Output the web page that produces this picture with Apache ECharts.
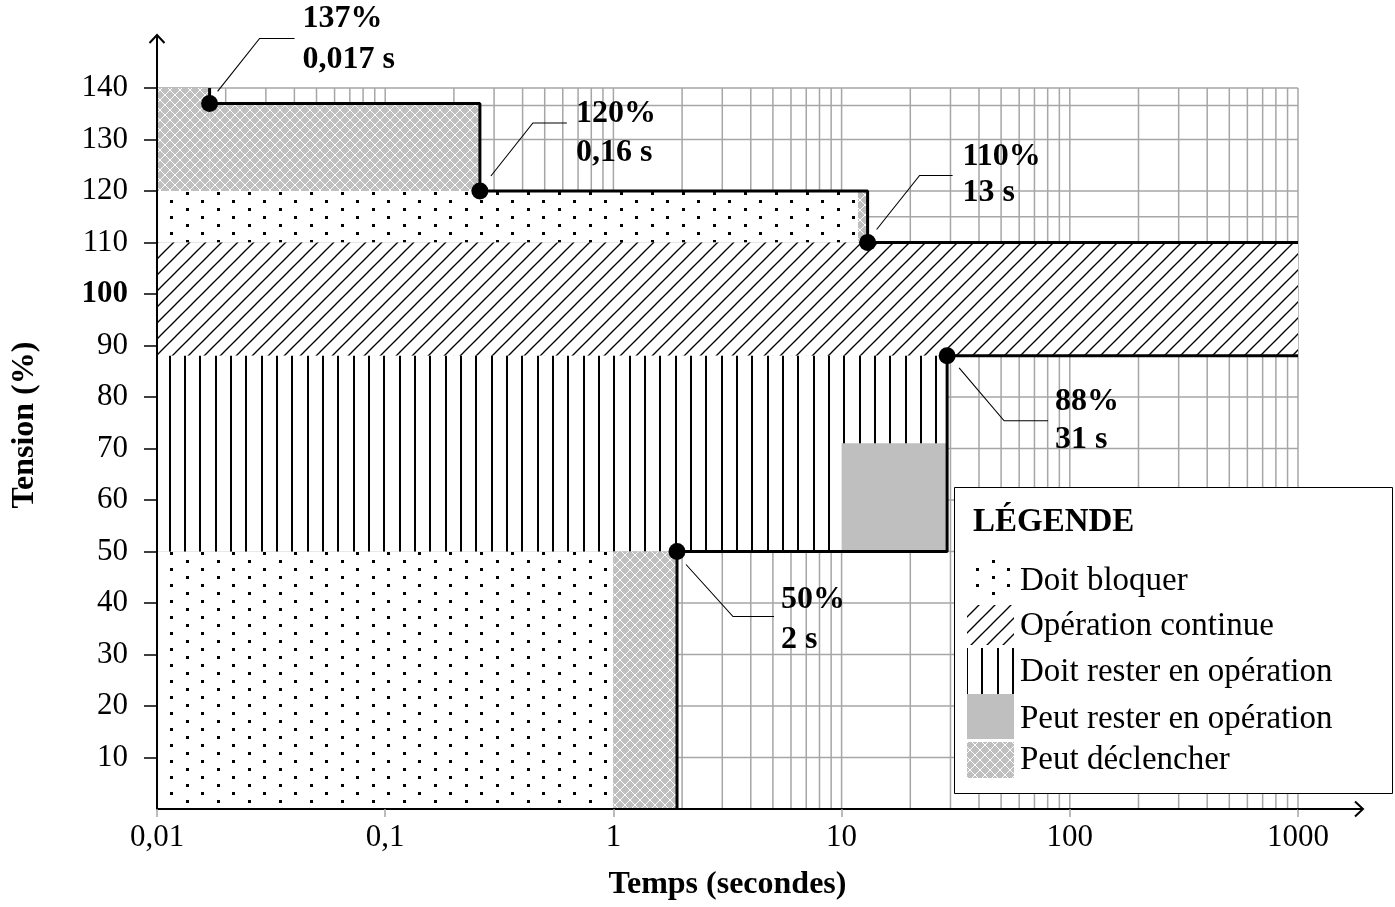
<!DOCTYPE html>
<html><head><meta charset="utf-8">
<script src="https://cdn.jsdelivr.net/npm/echarts@6/dist/echarts.min.js"></script>
<style>html,body{margin:0;padding:0;background:#fff}#c{width:1395px;height:907px}</style>
</head><body><div id="c"></div>
<script>
// ---------------- data ----------------
const xTickValues = [0.01, 0.1, 1, 10, 100, 1000];
const xTickLabels = ['0,01', '0,1', '1', '10', '100', '1000'];
const yTickValues = [10, 20, 30, 40, 50, 60, 70, 80, 90, 100, 110, 120, 130, 140];
const yBoldTick = 100;
// zones: [time start, time end, voltage low, voltage high]
const zoneMustTrip = [[0.01, 11.8, 110, 120], [0.01, 1, 0, 50]];
const zoneContinuous = [[0.01, 1000, 88, 110]];
const zoneMustRide = [[0.01, 29, 50, 88]];
const zoneMayRide = [[10, 29, 50, 71]];
const zoneMayTrip = [[0.01, 0.017, 120, 140], [0.017, 0.26, 120, 137], [11.8, 13, 110, 120], [1, 1.9, 0, 50]];
const upperBoundary = [[0.017, 140], [0.017, 137], [0.26, 137], [0.26, 120], [13, 120], [13, 110], [1000, 110]];
const lowerBoundary = [[1000, 88], [29, 88], [29, 50], [1.9, 50], [1.9, 0]];
const extraGridLines = [[0.26, 1000, 136.6], [13, 1000, 115]];
const pointTimes = [0.017, 0.26, 13, 29, 1.9];
const pointVolts = [137, 120, 110, 88, 50];
const pointPct = ['137%', '120%', '110%', '88%', '50%'];
const pointDur = ['0,017 s', '0,16 s', '13 s', '31 s', '2 s'];
const legendNames = ['Doit bloquer', 'Opération continue', 'Doit rester en opération', 'Peut rester en opération', 'Peut déclencher'];
const legendTitle = 'LÉGENDE';
const xTitle = 'Temps (secondes)';
const yTitle = 'Tension (%)';

(function () {
// ---------------- styles ----------------
const FONT = "'Liberation Serif','Times New Roman',serif";
const GRID_COLOR = '#a6a6a6';
const GRAY = '#bfbfbf';
// leader layouts relative to point: s=start, e=elbow, f=end, tx, ty1, ty2
const annoLayout = [
  { s: [8, -12], e: [50, -65], f: [85, -65], tx: 93, ty1: -85, ty2: -44 },
  { s: [11, -15], e: [53, -68], f: [87, -68], tx: 96, ty1: -77, ty2: -38 },
  { s: [9, -13], e: [52, -67], f: [85, -67], tx: 95, ty1: -86, ty2: -50 },
  { s: [12, 12], e: [57, 65], f: [101, 65], tx: 108, ty1: 46, ty2: 84 },
  { s: [9, 13], e: [56, 65], f: [97, 65], tx: 104, ty1: 48, ty2: 88 }
];

function makeCanvas(w, h, draw) {
  const c = document.createElement('canvas');
  c.width = w; c.height = h;
  draw(c.getContext('2d'), w, h);
  return c;
}
const dotsPat = { image: makeCanvas(31, 16, (ctx, w, h) => {
  ctx.fillStyle = '#fff'; ctx.fillRect(0, 0, w, h);
  ctx.fillStyle = '#000'; ctx.fillRect(0, 0, 3, 3); ctx.fillRect(15, 8, 3, 3);
}), repeat: 'repeat' };
const diagPat = { image: makeCanvas(16, 16, (ctx, w, h) => {
  ctx.fillStyle = '#fff'; ctx.fillRect(0, 0, w, h);
  ctx.strokeStyle = '#000'; ctx.lineWidth = 1.3;
  [-16, 0, 16].forEach(o => { ctx.beginPath(); ctx.moveTo(o - 2, 18); ctx.lineTo(o + 18, -2); ctx.stroke(); });
}), repeat: 'repeat' };
const vertPat = { image: makeCanvas(46, 8, (ctx, w, h) => {
  ctx.fillStyle = '#fff'; ctx.fillRect(0, 0, w, h);
  ctx.fillStyle = '#000'; [0, 15, 31].forEach(x => ctx.fillRect(x, 0, 2, h));
}), repeat: 'repeat' };
const crossPat = { image: makeCanvas(10, 10, (ctx, w, h) => {
  ctx.fillStyle = GRAY; ctx.fillRect(0, 0, w, h);
  ctx.strokeStyle = '#fff'; ctx.lineWidth = 1;
  [-10, 0, 10].forEach(o => {
    ctx.beginPath(); ctx.moveTo(o - 1, -1); ctx.lineTo(o + 11, 11); ctx.stroke();
    ctx.beginPath(); ctx.moveTo(o - 1, 11); ctx.lineTo(o + 11, -1); ctx.stroke();
  });
}), repeat: 'repeat' };

// grid line values
const gridX = [];
for (let i = 0; i < xTickValues.length - 1; i++) {
  for (let m = 1; m < 10; m++) gridX.push(xTickValues[i] * m);
}
gridX.push(xTickValues[xTickValues.length - 1]);
const xMin = xTickValues[0], xMax = xTickValues[xTickValues.length - 1];
const yMax = yTickValues[yTickValues.length - 1];

function zoneSeries(name, data, fill) {
  return {
    type: 'custom', name, data, z: 2, silent: true, clip: true,
    encode: { x: [0, 1], y: [2, 3] },
    renderItem: (params, api) => {
      const a = api.coord([api.value(0), api.value(3)]);
      const b = api.coord([api.value(1), api.value(2)]);
      return { type: 'rect', shape: { x: a[0], y: a[1], width: b[0] - a[0], height: b[1] - a[1] }, style: { fill } };
    }
  };
}

const chart = echarts.init(document.getElementById('c'), null, { renderer: 'canvas' });
chart.setOption({
  animation: false,
  backgroundColor: '#fff',
  grid: { left: 157, right: 97, top: 88, bottom: 98, containLabel: false },
  xAxis: {
    type: 'log', logBase: 10, min: xMin, max: xMax, z: 10,
    axisLine: { show: true, lineStyle: { color: '#000', width: 2 } },
    axisTick: { show: true, length: 8, lineStyle: { color: GRID_COLOR, width: 1.5 } },
    splitLine: { show: false },
    axisLabel: {
      margin: 13, color: '#000', fontSize: 31, fontFamily: FONT,
      formatter: v => xTickLabels[Math.round(Math.log10(v)) + 2]
    }
  },
  yAxis: {
    type: 'value', min: 0, max: yMax, interval: 10, z: 10,
    axisLine: { show: true, lineStyle: { color: '#000', width: 2 } },
    axisTick: { show: true, length: 13, customValues: yTickValues, lineStyle: { color: '#000', width: 1.5 } },
    splitLine: { show: false },
    axisLabel: {
      margin: 29, color: '#000', fontSize: 31, fontFamily: FONT, customValues: yTickValues,
      formatter: v => v === 0 ? '' : (v === yBoldTick ? '{b|' + v + '}' : String(v)),
      rich: { b: { fontWeight: 'bold', fontSize: 31, fontFamily: FONT, color: '#000' } }
    }
  },
  series: [
    {
      type: 'custom', name: 'gridV', data: gridX.map(v => [v]), z: 1, silent: true,
      encode: { x: 0 },
      renderItem: (params, api) => {
        const a = api.coord([api.value(0), 0]);
        const b = api.coord([api.value(0), yMax]);
        return { type: 'line', shape: { x1: a[0], y1: a[1], x2: b[0], y2: b[1] }, style: { stroke: GRID_COLOR, lineWidth: 1.5 } };
      }
    },
    {
      type: 'custom', name: 'gridH',
      data: yTickValues.map(v => [xMin, xMax, v]).concat(extraGridLines), z: 1, silent: true,
      encode: { x: [0, 1], y: 2 },
      renderItem: (params, api) => {
        const a = api.coord([api.value(0), api.value(2)]);
        const b = api.coord([api.value(1), api.value(2)]);
        return { type: 'line', shape: { x1: a[0], y1: a[1], x2: b[0], y2: b[1] }, style: { stroke: GRID_COLOR, lineWidth: 1.5 } };
      }
    },
    zoneSeries('Doit bloquer', zoneMustTrip, dotsPat),
    zoneSeries('Opération continue', zoneContinuous, diagPat),
    zoneSeries('Doit rester en opération', zoneMustRide, vertPat),
    zoneSeries('Peut rester en opération', zoneMayRide, GRAY),
    zoneSeries('Peut déclencher', zoneMayTrip, crossPat),
    {
      type: 'line', data: upperBoundary, z: 3, symbol: 'none', silent: true,
      lineStyle: { color: '#000', width: 3, opacity: 1 }
    },
    {
      type: 'line', data: lowerBoundary, z: 3, symbol: 'none', silent: true,
      lineStyle: { color: '#000', width: 3, opacity: 1 }
    },
    {
      type: 'scatter', data: pointTimes.map((t, i) => [t, pointVolts[i]]), z: 4,
      symbol: 'circle', symbolSize: 17, itemStyle: { color: '#000', opacity: 1 }, silent: true
    },
    {
      type: 'custom', name: 'annotations', z: 5, silent: true, clip: false,
      data: pointTimes.map((t, i) => [t, pointVolts[i]]),
      encode: { x: 0, y: 1 },
      renderItem: (params, api) => {
        const i = params.dataIndex;
        const p = api.coord([api.value(0), api.value(1)]);
        const L = annoLayout[i];
        const ts = (t, dy) => ({
          type: 'text', x: p[0] + L.tx, y: p[1] + dy,
          style: { text: t, fontSize: 32, fontWeight: 'bold', fontFamily: FONT, fill: '#000',
            align: 'left', verticalAlign: 'middle', textAlign: 'left', textVerticalAlign: 'middle' }
        });
        return {
          type: 'group', children: [
            { type: 'polyline', shape: { points: [[p[0] + L.s[0], p[1] + L.s[1]], [p[0] + L.e[0], p[1] + L.e[1]], [p[0] + L.f[0], p[1] + L.f[1]]] },
              style: { stroke: '#000', lineWidth: 1.1, fill: null } },
            ts(pointPct[i], L.ty1),
            ts(pointDur[i], L.ty2)
          ]
        };
      }
    }
  ]
});

// ---------- graphics: axis arrows, titles, legend ----------
const pO = chart.convertToPixel({ gridIndex: 0 }, [xMin, 0]);
const pTop = chart.convertToPixel({ gridIndex: 0 }, [xMin, yMax]);
const pRt = chart.convertToPixel({ gridIndex: 0 }, [xMax, 0]);
const arrowY = 35, arrowX = 1363;
const mkText = (text, x, y, size, bold, align, extra) => Object.assign({
  type: 'text', x, y, z: 100,
  style: { text, fontSize: size, fontWeight: bold ? 'bold' : 'normal', fontFamily: FONT, fill: '#000',
    align: align, verticalAlign: 'middle', textAlign: align, textVerticalAlign: 'middle' }
}, extra || {});
const legendSw = [
  { y: 559, h: 40, fill: dotsPat },
  { y: 605, h: 40, fill: diagPat },
  { y: 648, h: 46, fill: vertPat },
  { y: 694, h: 45, fill: GRAY },
  { y: 742, h: 36, fill: crossPat }
];
const legendTextY = [581, 626, 672, 719, 760];
const graphics = [
  { type: 'line', z: 100, shape: { x1: pTop[0], y1: pTop[1], x2: pTop[0], y2: arrowY + 1 }, style: { stroke: '#000', lineWidth: 2 } },
  { type: 'polyline', z: 100, shape: { points: [[pTop[0] - 7.5, arrowY + 8], [pTop[0], arrowY], [pTop[0] + 7.5, arrowY + 8]] }, style: { stroke: '#000', lineWidth: 2, fill: null } },
  { type: 'line', z: 100, shape: { x1: pRt[0], y1: pRt[1], x2: arrowX - 1, y2: pRt[1] }, style: { stroke: '#000', lineWidth: 2 } },
  { type: 'polyline', z: 100, shape: { points: [[arrowX - 8, pRt[1] - 7.5], [arrowX, pRt[1]], [arrowX - 8, pRt[1] + 7.5]] }, style: { stroke: '#000', lineWidth: 2, fill: null } },
  mkText(xTitle, (pO[0] + pRt[0]) / 2, 885, 32, true, 'center'),
  mkText(yTitle, 25, 425, 32, true, 'center', { rotation: Math.PI / 2 }),
  { type: 'rect', z: 100, shape: { x: 954.5, y: 487.5, width: 438, height: 306 }, style: { fill: '#fff', stroke: '#000', lineWidth: 1 } },
  mkText(legendTitle, 973, 522, 33, true, 'left', { z: 101 })
];
legendNames.forEach((n, i) => {
  graphics.push({ type: 'rect', z: 101, shape: { x: 967, y: legendSw[i].y, width: 47, height: legendSw[i].h }, style: { fill: legendSw[i].fill } });
  graphics.push(mkText(n, 1020, legendTextY[i], 33, false, 'left', { z: 101 }));
});
chart.setOption({ graphic: graphics });
})();
</script>
</body></html>
